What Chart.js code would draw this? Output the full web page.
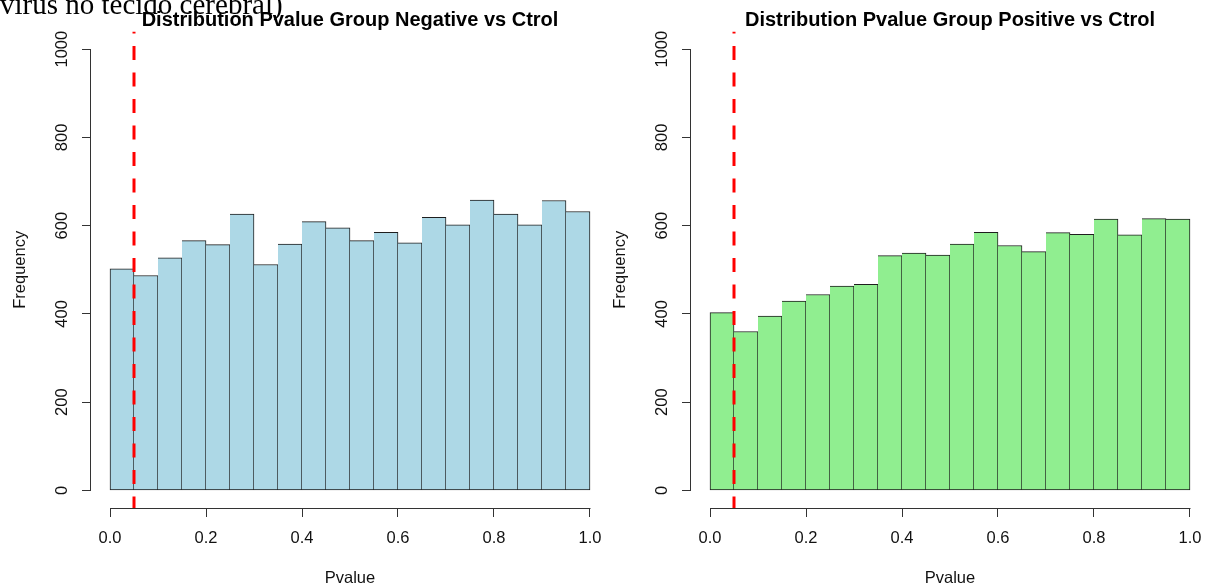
<!DOCTYPE html>
<html>
<head>
<meta charset="utf-8">
<script src="https://cdn.jsdelivr.net/npm/chart.js@4.4.1/dist/chart.umd.min.js"></script>
<style>
  html, body { margin: 0; padding: 0; background: #fff; overflow: hidden; }
  #page { position: relative; width: 1205px; height: 586px; overflow: hidden; background: #fff; }
  .panel { position: absolute; top: 0; width: 614px; height: 586px; }
  #caption {
    position: absolute; left: 0; top: -10px; margin: 0;
    font-family: "Liberation Serif", "Times New Roman", serif;
    font-size: 29px; line-height: 1; white-space: nowrap; color: #000;
  }
</style>
</head>
<body>
<div id="page">
  <div class="panel" style="left:0"><canvas id="negChart" width="614" height="586"></canvas></div>
  <div class="panel" style="left:600px"><canvas id="posChart" width="614" height="586"></canvas></div>
  <p id="caption">virus no tecido cerebral)</p>
</div>
<script>
// Histogram bins (p-value bin centres, width 0.05)
const binCenters = [0.025, 0.075, 0.125, 0.175, 0.225, 0.275, 0.325, 0.375, 0.425, 0.475,
                    0.525, 0.575, 0.625, 0.675, 0.725, 0.775, 0.825, 0.875, 0.925, 0.975];

// Frequencies per bin
const negativeCounts = [502, 487, 527, 566, 557, 626, 512, 558, 609, 595,
                        566, 585, 561, 619, 602, 658, 626, 602, 657, 632];
const positiveCounts = [403, 360, 395, 429, 444, 463, 467, 532, 538, 533,
                        558, 585, 555, 541, 584, 580, 615, 579, 616, 615];

// Axis ticks
const xTickValues = [0, 0.2, 0.4, 0.6, 0.8, 1.0];
const yTickValues = [0, 200, 400, 600, 800, 1000];

// Significance cut-off marked with a dashed line
const pCutoff = 0.05;

const FONT = '"Liberation Sans", Arial, Helvetica, sans-serif';
const AXIS_COLOR = '#333333';

// Base-graphics style axes: line only spans the first..last tick
const axisLines = {
  id: 'axisLines',
  afterDraw(chart) {
    const { ctx, chartArea: a, scales: { x, y } } = chart;
    ctx.save();
    ctx.strokeStyle = AXIS_COLOR;
    ctx.lineWidth = 1;
    const yb = Math.round(a.bottom) + 0.5;
    ctx.beginPath();
    ctx.moveTo(Math.round(x.getPixelForValue(xTickValues[0])) + 0.5, yb);
    ctx.lineTo(Math.round(x.getPixelForValue(xTickValues[xTickValues.length - 1])) + 0.5, yb);
    ctx.stroke();
    const xl = Math.round(a.left) - 0.5;
    ctx.beginPath();
    ctx.moveTo(xl, Math.round(y.getPixelForValue(yTickValues[0])) + 0.5);
    ctx.lineTo(xl, Math.round(y.getPixelForValue(yTickValues[yTickValues.length - 1])) + 0.5);
    ctx.stroke();
    ctx.restore();
  }
};

// Vertical dashed cut-off line across the plot region
const cutoffLine = {
  id: 'cutoffLine',
  afterDatasetsDraw(chart) {
    const { ctx, chartArea: a, scales: { x } } = chart;
    const px = x.getPixelForValue(pCutoff);
    ctx.save();
    ctx.beginPath();
    ctx.rect(a.left, a.top, a.right - a.left, a.bottom - a.top);
    ctx.clip();
    ctx.strokeStyle = '#ff0000';
    ctx.lineWidth = 3;
    ctx.setLineDash([14, 12.5]);
    ctx.lineDashOffset = 12;
    ctx.beginPath();
    ctx.moveTo(px, a.top);
    ctx.lineTo(px, a.bottom);
    ctx.stroke();
    ctx.restore();
  }
};

function tickGrid() {
  return {
    display: true, drawOnChartArea: false, drawTicks: true,
    tickLength: 9, color: AXIS_COLOR, lineWidth: 1, offset: false
  };
}

function histogram(canvasId, counts, fill, titleText) {
  return new Chart(document.getElementById(canvasId), {
    type: 'bar',
    data: {
      datasets: [{
        data: binCenters.map((c, i) => ({ x: c, y: counts[i] })),
        backgroundColor: fill,
        borderColor: '#1e1e1e',
        borderWidth: ctx => ({ top: 1, right: 1, bottom: 1, left: ctx.dataIndex === 0 ? 1 : 0 }),
        borderSkipped: false,
        barPercentage: 1,
        categoryPercentage: 1
      }]
    },
    options: {
      responsive: false,
      animation: false,
      devicePixelRatio: 1,
      layout: { padding: { left: 0, right: 5, top: 0, bottom: 0 } },
      plugins: {
        legend: { display: false },
        tooltip: { enabled: false },
        title: {
          display: true, text: titleText, fullSize: false, color: '#000',
          font: { family: FONT, size: 20, weight: 'bold', lineHeight: 1.15 },
          padding: { top: 8.5, bottom: 0 }
        }
      },
      scales: {
        x: {
          type: 'linear', min: -0.0396, max: 1.0396, offset: false,
          afterBuildTicks: s => { s.ticks = xTickValues.map(v => ({ value: v })); },
          afterFit: s => { s.height = 78; },
          grid: tickGrid(),
          border: { display: false },
          ticks: {
            color: '#111', font: { family: FONT, size: 16.5 }, padding: 12,
            maxRotation: 0, minRotation: 0, autoSkip: false,
            callback: v => Number(v).toFixed(1)
          },
          title: {
            display: true, text: 'Pvalue', color: '#111',
            font: { family: FONT, size: 16.5 }, padding: { top: 0, bottom: -2.5 }
          }
        },
        y: {
          type: 'linear', min: -40, max: 1040,
          afterBuildTicks: s => { s.ticks = yTickValues.map(v => ({ value: v })); },
          afterFit: s => { s.width = 91; },
          grid: tickGrid(),
          border: { display: false },
          ticks: {
            color: '#111', font: { family: FONT, size: 16.5 }, padding: 1,
            minRotation: 90, maxRotation: 90, crossAlign: 'center', autoSkip: false,
            callback: v => String(v)
          },
          title: {
            display: true, text: 'Frequency', color: '#111',
            font: { family: FONT, size: 16.5 }, padding: { top: 11, bottom: 0 }
          }
        }
      }
    },
    plugins: [cutoffLine, axisLines]
  });
}

histogram('negChart', negativeCounts, '#add8e6', 'Distribution Pvalue Group Negative vs Ctrol');
histogram('posChart', positiveCounts, '#90ee90', 'Distribution Pvalue Group Positive vs Ctrol');
</script>
</body>
</html>
